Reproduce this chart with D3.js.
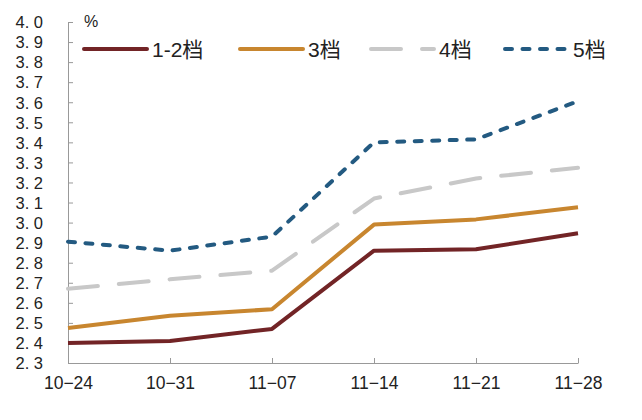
<!DOCTYPE html>
<html><head><meta charset="utf-8">
<script src="https://cdn.jsdelivr.net/npm/d3@7"></script>
<style>
body{margin:0;background:#fff;}
text{font-family:"Liberation Sans",Arial,"Noto Sans CJK SC",sans-serif;fill:#222;}
</style></head>
<body><svg id="c" width="642" height="420"></svg>
<script>
const dates = ["10-24","10-31","11-07","11-14","11-21","11-28"];
const dateLabels = ["10−24","10−31","11−07","11−14","11−21","11−28"];
const seriesNames = ["1-2档","3档","4档","5档"];
const s12 = [2.40, 2.41, 2.47, 2.86, 2.867, 2.947];
const s3  = [2.475, 2.536, 2.568, 2.99, 3.016, 3.076];
const s4  = [2.67, 2.717, 2.76, 3.12, 3.22, 3.273];
const s5  = [2.905, 2.86, 2.93, 3.40, 3.415, 3.605];
const yTicks = [2.3,2.4,2.5,2.6,2.7,2.8,2.9,3.0,3.1,3.2,3.3,3.4,3.5,3.6,3.7,3.8,3.9,4.0];
const colors = ["#722426","#c8862f","#c8c8c8","#235a81"];
const dashes = [null, null, "30,21", "7,10.5"];

const svg = d3.select("#c");
const x = d3.scalePoint().domain(dates).range([68, 578]);
const y = d3.scaleLinear().domain([2.3, 4.0]).range([363, 22]);
const axisColor = "#999";

// y axis
const ya = svg.append("g").attr("transform","translate(68,0)")
  .call(d3.axisRight(y).tickValues(yTicks).tickSize(5).tickFormat(d => d3.format(".1f")(d).replace(".", ". ")));
ya.select(".domain").attr("stroke", axisColor);
ya.selectAll(".tick line").attr("stroke", axisColor);
ya.selectAll(".tick text").attr("x", -25).attr("text-anchor","end").attr("font-size",16.5).attr("fill","#222").attr("dy","0.35em");

// x axis
const xa = svg.append("g").attr("transform","translate(0,363)")
  .call(d3.axisTop(x).tickSize(5).tickSizeOuter(0).tickFormat((d,i)=>dateLabels[i]));
xa.select(".domain").attr("stroke", axisColor);
xa.selectAll(".tick line").attr("stroke", axisColor);
xa.selectAll(".tick text").attr("y", 20).attr("dy","0.35em").attr("font-size",17.5).attr("fill","#222");

svg.append("text").attr("x",84).attr("y",27).attr("font-size",16).text("%");

const all = [s12, s3, s4, s5];
const line = d3.line().x((d,i)=>x(dates[i])).y(d=>y(d));
all.forEach((s,k)=>{
  svg.append("path").datum(s).attr("d", line).attr("fill","none")
    .attr("stroke", colors[k]).attr("stroke-width", 4)
    .attr("stroke-linejoin","round").attr("stroke-linecap", k>=2 ? "round":"butt")
    .attr("stroke-dasharray", dashes[k]);
});

// legend
const legX = [84, 240, 371, 505];
const lg = svg.append("g");
seriesNames.forEach((n,k)=>{
  lg.append("line").attr("x1", legX[k]).attr("x2", legX[k]+63).attr("y1",49).attr("y2",49)
    .attr("stroke", colors[k]).attr("stroke-width",4).attr("stroke-linecap","round")
    .attr("stroke-dasharray", dashes[k]);
  lg.append("text").attr("x", legX[k]+68).attr("y",49).attr("dy","0.36em").attr("font-size",21).text(n);
});
</script></body></html>
